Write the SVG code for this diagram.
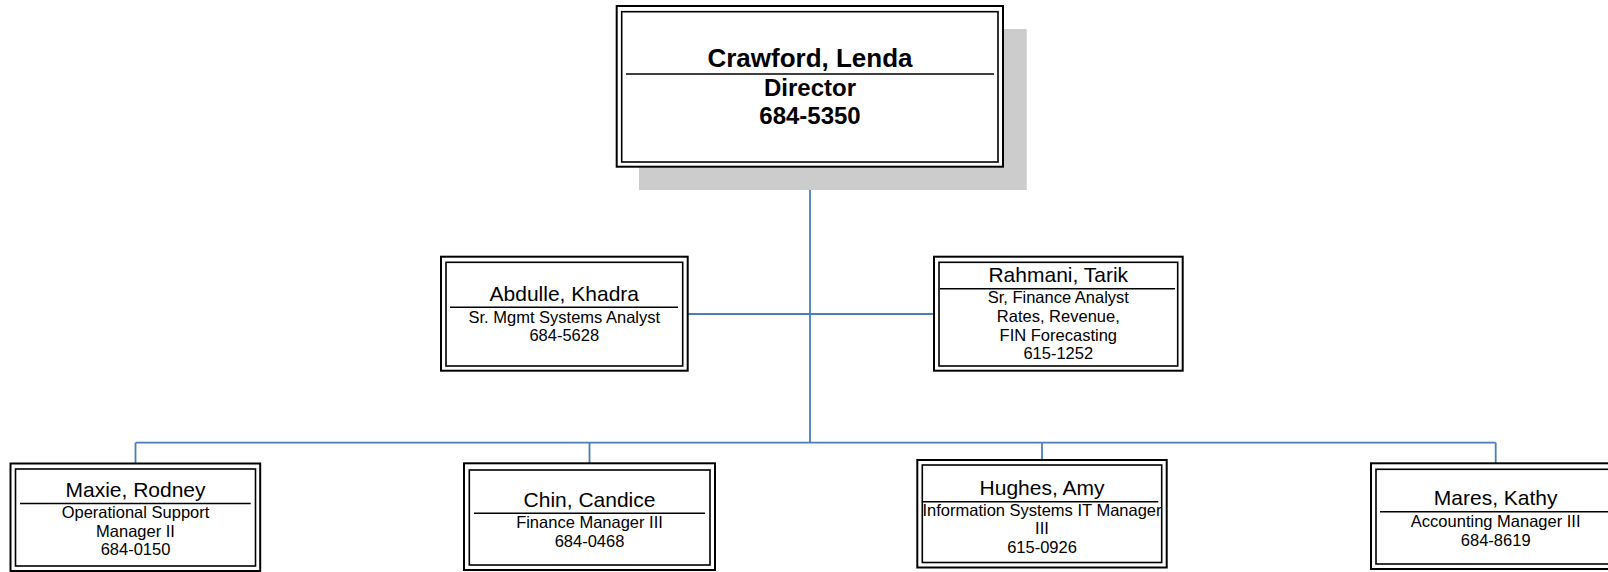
<svg xmlns="http://www.w3.org/2000/svg" width="1608" height="572" viewBox="0 0 1608 572">
<style>
.bg{fill:#ffffff}
.outer{fill:#ffffff;stroke:#000000;stroke-width:2}
.inner{fill:none;stroke:#000000;stroke-width:1.6}
.sep{stroke:#000000;stroke-width:1.6}
.shadow{fill:#cccccc}
.conn{fill:none;stroke:#4a7ebb;stroke-width:1.8}
text{font-family:"Liberation Sans",Arial,sans-serif;fill:#000000;text-anchor:middle}
.nm{font-size:21px}
.tt{font-size:16.5px}
.bnm{font-size:26px;font-weight:bold}
.btt{font-size:24px;font-weight:bold}
</style>
<rect class="bg" x="0" y="0" width="1608" height="572"/>
<g id="connectors">
<path class="conn" d="M810,166.7 V442.7"/>
<path class="conn" d="M687.7,314 H934"/>
<path class="conn" d="M135.5,442.7 H1495.7"/>
<path class="conn" d="M135.5,442.7 V463.5"/>
<path class="conn" d="M589.5,442.7 V463.3"/>
<path class="conn" d="M1042,442.7 V460"/>
<path class="conn" d="M1495.7,442.7 V463.3"/>
</g>
<g id="node-crawford">
<rect class="shadow" x="639" y="29" width="387.7" height="161"/>
<rect class="outer" x="616.7" y="6" width="386.3" height="160.7"/>
<rect class="inner" x="621.7" y="11.7" width="376.3" height="150.3"/>
<line class="sep" x1="626" y1="74" x2="994" y2="74"/>
<text class="bnm" x="810" y="66.5">Crawford, Lenda</text>
<text class="btt" x="810" y="95.5">Director</text>
<text class="btt" x="810" y="124">684-5350</text>
</g>
<g id="node-abdulle">
<rect class="outer" x="441" y="256.7" width="246.7" height="114"/>
<rect class="inner" x="446" y="262.3" width="236.7" height="103.7"/>
<line class="sep" x1="450" y1="307.3" x2="678" y2="307.3"/>
<text class="nm" x="564.3" y="300.5">Abdulle, Khadra</text>
<text class="tt" x="564.3" y="322.5">Sr. Mgmt Systems Analyst</text>
<text class="tt" x="564.3" y="341">684-5628</text>
</g>
<g id="node-rahmani">
<rect class="outer" x="934" y="256.7" width="248.7" height="114"/>
<rect class="inner" x="939" y="262.3" width="238.7" height="103.7"/>
<line class="sep" x1="940" y1="288.7" x2="1175" y2="288.7"/>
<text class="nm" x="1058.3" y="281.7">Rahmani, Tarik</text>
<text class="tt" x="1058.3" y="303.3">Sr, Finance Analyst</text>
<text class="tt" x="1058.3" y="322">Rates, Revenue,</text>
<text class="tt" x="1058.3" y="340.7">FIN Forecasting</text>
<text class="tt" x="1058.3" y="359.3">615-1252</text>
</g>
<g id="node-maxie">
<rect class="outer" x="10.5" y="463.5" width="249.7" height="107.5"/>
<rect class="inner" x="15.5" y="469" width="240" height="97"/>
<line class="sep" x1="20" y1="503.5" x2="250.7" y2="503.5"/>
<text class="nm" x="135.5" y="497">Maxie, Rodney</text>
<text class="tt" x="135.5" y="518.3">Operational Support</text>
<text class="tt" x="135.5" y="536.7">Manager II</text>
<text class="tt" x="135.5" y="555">684-0150</text>
</g>
<g id="node-chin">
<rect class="outer" x="464" y="463.3" width="251" height="106.7"/>
<rect class="inner" x="469.3" y="470" width="240.7" height="95"/>
<line class="sep" x1="474" y1="513.3" x2="705" y2="513.3"/>
<text class="nm" x="589.5" y="506.5">Chin, Candice</text>
<text class="tt" x="589.5" y="528">Finance Manager III</text>
<text class="tt" x="589.5" y="547">684-0468</text>
</g>
<g id="node-hughes">
<rect class="outer" x="917.3" y="460" width="249.4" height="107.5"/>
<rect class="inner" x="922.3" y="465" width="239.4" height="97.5"/>
<line class="sep" x1="922" y1="501.7" x2="1158.3" y2="501.7"/>
<text class="nm" x="1042" y="495">Hughes, Amy</text>
<text class="tt" x="1042" y="515.5">Information Systems IT Manager</text>
<text class="tt" x="1042" y="534">III</text>
<text class="tt" x="1042" y="552.5">615-0926</text>
</g>
<g id="node-mares">
<rect class="outer" x="1371" y="463.3" width="249.4" height="105.7"/>
<rect class="inner" x="1376" y="469.3" width="239.4" height="94.7"/>
<line class="sep" x1="1380" y1="511.7" x2="1611" y2="511.7"/>
<text class="nm" x="1495.7" y="505">Mares, Kathy</text>
<text class="tt" x="1495.7" y="527">Accounting Manager III</text>
<text class="tt" x="1495.7" y="546">684-8619</text>
</g>
</svg>
